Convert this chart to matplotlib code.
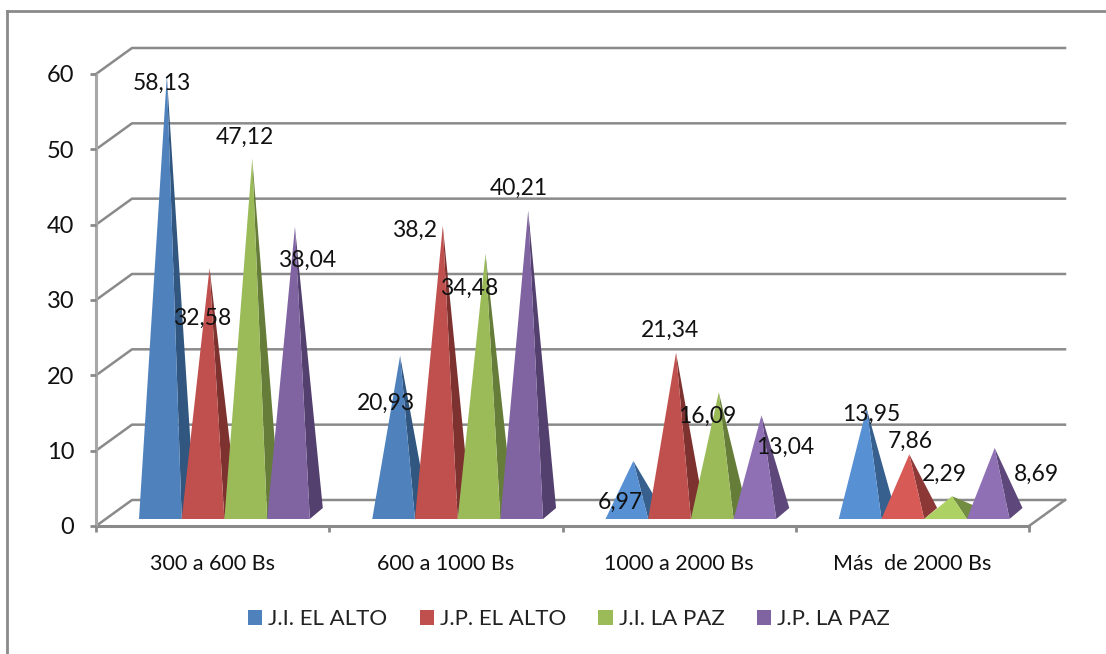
import numpy as np
import matplotlib
matplotlib.use("Agg")
import matplotlib.pyplot as plt
from matplotlib.colors import to_rgb
from matplotlib.patches import Patch

categories = ["300 a 600 Bs", "600 a 1000 Bs", "1000 a 2000 Bs", "Más  de 2000 Bs"]
series_names = ["J.I. EL ALTO", "J.P. EL ALTO", "J.I. LA PAZ", "J.P. LA PAZ"]
ji_alto = [58.13, 20.93, 6.97, 13.95]
jp_alto = [32.58, 38.2, 21.34, 7.86]
ji_paz = [47.12, 34.48, 16.09, 2.29]
jp_paz = [38.04, 40.21, 13.04, 8.69]
label_texts = [
    ["58,13", "20,93", "6,97", "13,95"],
    ["32,58", "38,2", "21,34", "7,86"],
    ["47,12", "34,48", "16,09", "2,29"],
    ["38,04", "40,21", "13,04", "8,69"],
]

# label offset from the apex, in pixels (x right, y up)
label_offsets = [
    [(-5, -8), (-14, -48), (-13, -41), (5, -6)],
    [(-7, -50), (-28, -5), (-6, 22), (1, 13)],
    [(-7, 21), (-16, -35), (-12, -24), (-8, 22)],
    [(12, -33), (-9, 22), (24, -32), (42, -26)],
]

front_colors = ["#4f81bd", "#c0504d", "#9bbb59", "#8064a2"]
side_colors = ["#31567f", "#7d3230", "#667d3a", "#54406e"]
GREY = "#8a8a8a"

W, H = 1106, 654
PX_X = 233.25  # px per category
PX_Y = 7.53    # px per unit of value


def px_x(p):
    return p / PX_X


def px_y(p):
    return p / PX_Y


def lighter(color, v):
    # short pyramids catch more light in the original
    if v >= 15:
        return color
    return tuple(min(1, c * 1.12) for c in to_rgb(color))


plt.rcParams["font.family"] = ["Lato", "DejaVu Sans"]
fig = plt.figure(figsize=(W / 100, H / 100), dpi=100)
ax = fig.add_axes([96 / W, 1 - 526 / H, 933 / W, 452 / H])
ax.set_xlim(0, 4)
ax.set_ylim(0, 60)
for s in ax.spines.values():
    s.set_visible(False)
ax.patch.set_alpha(0)

# back wall, side wall and floor
DX, DY = px_x(36), px_y(26)
yticks = np.arange(0, 70, 10)
for v in yticks:
    ax.plot([0, DX, 4 + DX], [v, v + DY, v + DY], color=GREY, lw=1.8, clip_on=False, zorder=1)
ax.plot([4, 4 + DX], [0, DY], color=GREY, lw=1.8, clip_on=False, zorder=1)
ax.plot([0, 4], [0, 0], color=GREY, lw=2.2, clip_on=False, zorder=1)
ax.plot([0, 0], [0, 60], color="#a8a8a8", lw=2.2, clip_on=False, zorder=1)

ax.set_yticks(yticks)
ax.set_xticks(np.arange(5))
ax.set_xticklabels([])
ax.set_xticks(np.arange(4) + 0.5, labels=categories, minor=True)
ax.tick_params(axis="y", length=4.5, width=2, color=GREY, labelsize=17, pad=11, labelcolor="#111111")
ax.tick_params(axis="x", which="major", length=4.5, width=2, color=GREY)
ax.tick_params(axis="x", which="minor", length=0, labelsize=15.5, pad=20, labelcolor="#111111")

# pyramids
all_series = [ji_alto, jp_alto, ji_paz, jp_paz]
base_w = px_x(42.7)
start = px_x(43)
base_up = px_y(7)
back_x, back_y = px_x(13), px_y(11)
for s, values in enumerate(all_series):
    for g, v in enumerate(values):
        x0 = g + start + s * base_w
        x1 = x0 + base_w
        apex_x = (x0 + x1) / 2 + back_x / 2
        apex_y = base_up + back_y / 2 + v
        z = 3 + g + s * 0.1
        ax.fill([x1, x1 + back_x, apex_x], [base_up, base_up + back_y, apex_y],
                color=lighter(side_colors[s], v), lw=0, clip_on=False, zorder=z)
        ax.fill([x0, x1, apex_x], [base_up, base_up, apex_y],
                color=lighter(front_colors[s], v), lw=0, clip_on=False, zorder=z + 0.01)
        ox, oy = label_offsets[s][g]
        ax.annotate(label_texts[s][g], (apex_x, apex_y), xytext=(ox * 0.72, oy * 0.72),
                    textcoords="offset points", ha="center", va="center",
                    fontsize=16.5, color="#111111", zorder=20, annotation_clip=False)

handles = [Patch(facecolor=c, label=n) for c, n in zip(front_colors, series_names)]
fig.legend(handles=handles, ncol=4, loc="center", bbox_to_anchor=(569 / W, 1 - 619 / H),
           frameon=False, fontsize=16, handlelength=0.64, handleheight=0.68,
           columnspacing=1.45, handletextpad=0.27, labelcolor="#222222")

# chart frame
fig.add_artist(plt.Line2D([7 / W, 7 / W], [0, 1 - 11 / H], color=GREY, lw=2))
fig.add_artist(plt.Line2D([7 / W, 1], [1 - 11 / H, 1 - 11 / H], color=GREY, lw=2))

fig.savefig("out.png", dpi=100)
